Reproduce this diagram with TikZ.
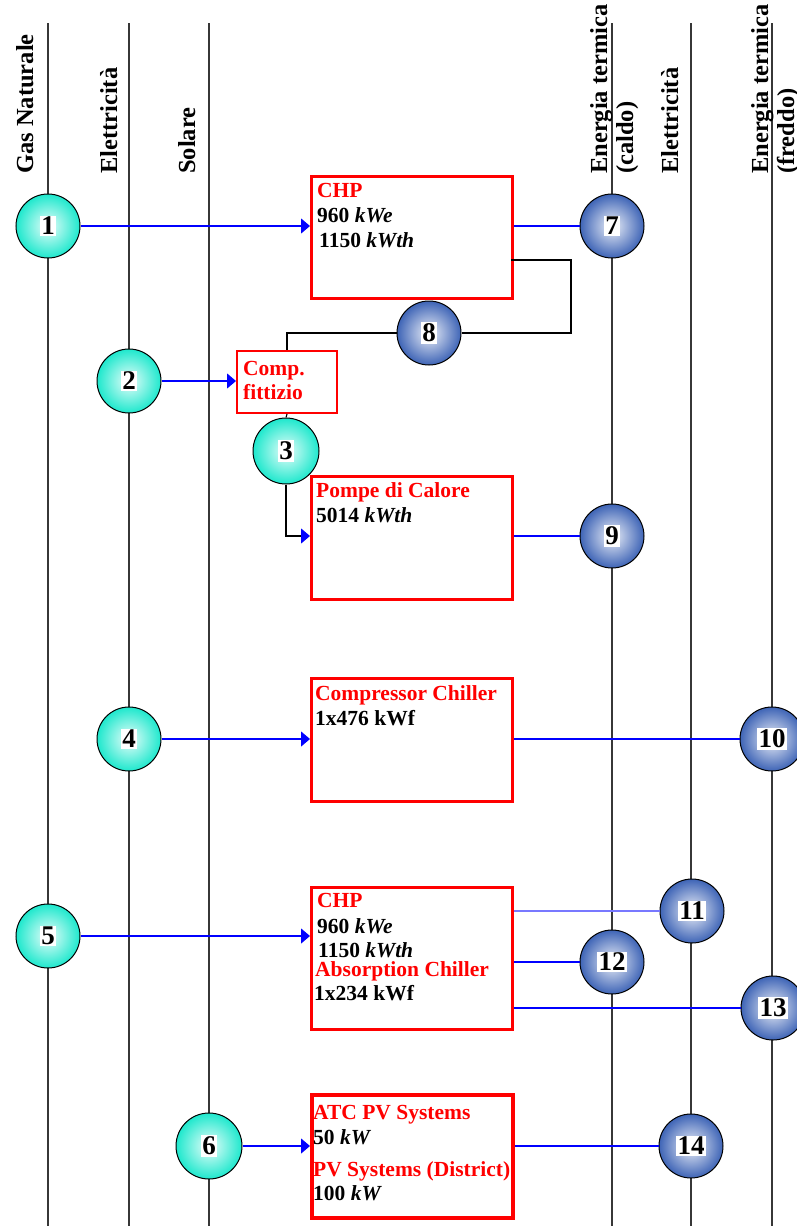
\documentclass[tikz,border=0pt]{standalone}
\usepackage{fontspec}
\setmainfont{Liberation Serif}
\usetikzlibrary{arrows.meta}
\definecolor{turq}{RGB}{30,232,205}
\definecolor{steel}{RGB}{62,100,182}
\definecolor{linegray}{RGB}{55,55,55}
\definecolor{flowblue}{RGB}{0,0,255}
\definecolor{lightflow}{RGB}{120,120,255}
\newcommand{\numbox}[1]{{\setlength{\fboxsep}{1.5pt}\colorbox{white}{\fontsize{27}{27}\selectfont\bfseries #1}}}
\begin{document}
\begin{tikzpicture}[x=1pt,y=-1pt,
  axisline/.style={draw=linegray, line width=1.3pt},
  lab/.style={rotate=90, anchor=base west, inner sep=0, font=\fontsize{24.5}{28}\selectfont\bfseries},
  srcball/.style={circle, draw=black, line width=1pt, minimum size=64pt, inner sep=0, shading=radial, inner color=turq!10, outer color=turq},
  dstball/.style={circle, draw=black, line width=1pt, minimum size=64pt, inner sep=0, shading=radial, inner color=steel!10, outer color=steel},
  unitbox/.style={draw=red, line width=2.6pt, fill=white, anchor=north west, inner sep=0},
  txtr/.style={anchor=base west, inner sep=0, text=red, font=\fontsize{21.5}{24}\selectfont\bfseries},
  txtk/.style={anchor=base west, inner sep=0, font=\fontsize{21.5}{24}\selectfont\bfseries},
  flow/.style={draw=flowblue, line width=1.1pt},
  tip/.style={-{Triangle[length=9pt,width=15pt,color=flowblue]}},
  wire/.style={draw=black, line width=1.1pt}
]
\useasboundingbox (0,0) rectangle (797,1226);
% axes
\foreach \xx in {48,129,209,612,691,772}{
  \draw[axisline] (\xx,23) -- (\xx,1226);
}
% axis labels
\node[lab] (lgas) at (33,174) {Gas Naturale};
\node[lab] (lel1) at (117,174) {Elettricità};
\node[lab] (lsol) at (195,174) {Solare};
\node[lab] (lcal1) at (607,174) {Energia termica};
\node[lab] (lcal2) at (633,174) {(caldo)};
\node[lab] (lel2) at (678,174) {Elettricità};
\node[lab] (lfr1) at (768,174) {Energia termica};
\node[lab] (lfr2) at (794,174) {(freddo)};

% unit boxes
\node[unitbox, minimum width=201pt, minimum height=122pt] (chp) at (310,175) {};
\node[unitbox, line width=2pt, minimum width=100pt, minimum height=62pt] (comp) at (236,350) {};
\node[unitbox, minimum width=201pt, minimum height=123pt] (pompe) at (310,475) {};
\node[unitbox, minimum width=201pt, minimum height=123pt] (cc) at (310,677) {};
\node[unitbox, minimum width=201pt, minimum height=142pt] (chp2) at (310,886) {};
\node[unitbox, line width=4pt, minimum width=201pt, minimum height=123pt] (atc) at (310,1093) {};

% box texts
\node[txtr] (t1) at (317,197) {CHP};
\node[txtk] (t2) at (317,222) {960 \textit{kWe}};
\node[txtk] (t3) at (319,247) {1150 \textit{kWth}};
\node[txtr] (t4) at (243,375) {Comp.};
\node[txtr] (t5) at (243,399) {fittizio};
\node[txtr] (t6) at (316,497) {Pompe di Calore};
\node[txtk] (t7) at (316,522) {5014 \textit{kWth}};
\node[txtr] (t8) at (315,700) {Compressor Chiller};
\node[txtk] (t9) at (315,725) {1x476 kWf};
\node[txtr] (t10) at (317,907) {CHP};
\node[txtk] (t11) at (317,933) {960 \textit{kWe}};
\node[txtk] (t12) at (318,957) {1150 \textit{kWth}};
\node[txtr] (t13) at (315,976) {Absorption Chiller};
\node[txtk] (t14) at (314,1000) {1x234 kWf};
\node[txtr] (t15) at (313,1119) {ATC PV Systems};
\node[txtk] (t16) at (313,1144) {50 \textit{kW}};
\node[txtr] (t17) at (313,1176) {PV Systems (District)};
\node[txtk] (t18) at (313,1200) {100 \textit{kW}};

% balls
\node[srcball] (c1) at (48,226) {\numbox{1}};
\node[srcball] (c2) at (129,381) {\numbox{2}};
\node[srcball, minimum size=66pt] (c3) at (286,451) {\numbox{3}};
\node[srcball] (c4) at (129,739) {\numbox{4}};
\node[srcball] (c5) at (48,936) {\numbox{5}};
\node[srcball, minimum size=66pt] (c6) at (209,1146) {\numbox{6}};
\node[dstball] (c7) at (612,226) {\numbox{7}};
\node[dstball] (c8) at (429,333) {\numbox{8}};
\node[dstball] (c9) at (612,536) {\numbox{9}};
\node[dstball] (c10) at (772,739) {\numbox{10}};
\node[dstball] (c11) at (692,911) {\numbox{11}};
\node[dstball] (c12) at (612,962) {\numbox{12}};
\node[dstball] (c13) at (773,1008) {\numbox{13}};
\node[dstball] (c14) at (691,1146) {\numbox{14}};

% connectors
\coordinate (chpout) at (511,260);
\coordinate (bend8) at (571,333);
\draw[flow, tip] (c1.east) -- (chp.west |- c1.east);
\draw[flow] (chp.east |- c7.west) -- (c7.west);
\draw[wire] (chpout) -| (bend8) -- (c8.east);
\draw[wire] (c8.west) -| (comp.north);
\draw[flow, tip] (c2.east) -- (comp.west |- c2.east);
\draw[wire] (comp.south) -- (c3.north);
\draw[wire, tip] (c3.south) |- (pompe.west |- c9.west);
\draw[flow] (pompe.east |- c9.west) -- (c9.west);
\draw[flow, tip] (c4.east) -- (cc.west |- c4.east);
\draw[flow] (cc.east |- c10.west) -- (c10.west);
\draw[flow, tip] (c5.east) -- (chp2.west |- c5.east);
\draw[flow, draw=lightflow] (chp2.east |- c11.west) -- (c11.west);
\draw[flow] (chp2.east |- c12.west) -- (c12.west);
\draw[flow] (chp2.east |- c13.west) -- (c13.west);
\draw[flow, tip] (c6.east) -- (atc.west |- c6.east);
\draw[flow] (atc.east |- c14.west) -- (c14.west);
\end{tikzpicture}
\end{document}
